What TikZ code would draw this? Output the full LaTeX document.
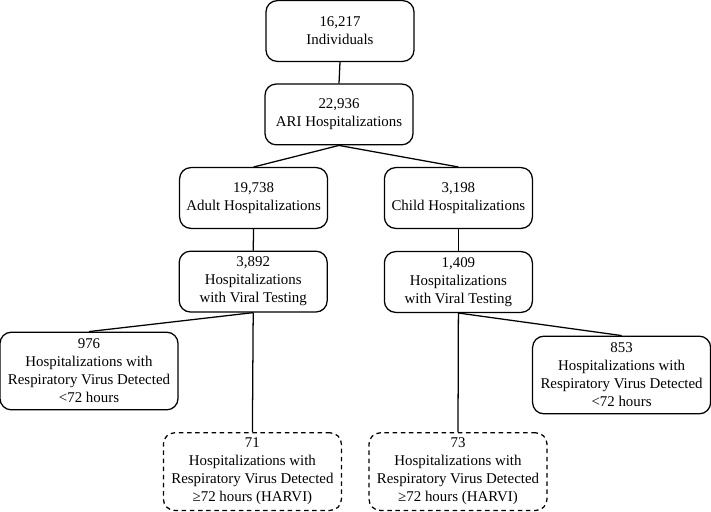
\documentclass[tikz,border=0pt]{standalone}
\usepackage{fontspec}
\setmainfont{Liberation Serif}
\usepackage{tikz}
\tikzset{
    box/.style={draw, line width=0.9pt, rounded corners=8pt, align=center, font=\fontsize{10.6}{12.8}\selectfont, inner sep=2pt},
    smallbox/.style={box, minimum width=3.7cm, minimum height=1.52cm},
    bigbox/.style={box, minimum width=4.45cm, minimum height=1.94cm},
    harvi/.style={bigbox, dash pattern=on 3.2pt off 2.6pt},
    link/.style={line width=0.9pt}
}
\begin{document}
\begin{tikzpicture}
    \useasboundingbox (0,0) rectangle (17.775,-12.775);
    % Top of the tree
    \node[smallbox] (indiv) at (8.5, -0.775) {16,217\\Individuals};
    \node[smallbox] (ari) at (8.475, -2.86) {22,936\\ARI Hospitalizations};
    
    % Adult and child split
    \node[smallbox] (adult) at (6.34, -4.95) {19,738\\Adult Hospitalizations};
    \node[smallbox] (child) at (11.46, -4.95) {3,198\\Child Hospitalizations};
    
    % Viral testing
    \node[smallbox] (adulttest) at (6.33, -7.04) {3,892\\Hospitalizations\\with Viral Testing};
    \node[smallbox] (childtest) at (11.46, -7.05) {1,409\\Hospitalizations\\with Viral Testing};
    
    % Detected <72 hours
    \node[bigbox] (adultearly) at (2.225, -9.275) {976\\Hospitalizations with\\Respiratory Virus Detected\\<72 hours};
    \node[bigbox] (childearly) at (15.54, -9.375) {853\\Hospitalizations with\\Respiratory Virus Detected\\<72 hours};
    
    % Detected >=72 hours (HARVI)
    \node[harvi] (adultharvi) at (6.31, -11.79) {71\\Hospitalizations with\\Respiratory Virus Detected\\≥72 hours (HARVI)};
    \node[harvi] (childharvi) at (11.45, -11.79) {73\\Hospitalizations with\\Respiratory Virus Detected\\≥72 hours (HARVI)};
    
    % Lines
    \draw[link] (indiv.south) -- (ari.north);
    \draw[link] (ari.south) -- (adult.north);
    \draw[link] (ari.south) -- (child.north);
    \draw[link] (adult.south) -- (adulttest.north);
    \draw[link] (child.south) -- (childtest.north);
    \draw[link] (adulttest.south) -- (adultearly.north);
    \draw[link] (adulttest.south) -- (adultharvi.north);
    \draw[link] (childtest.south) -- (childearly.north);
    \draw[link] (childtest.south) -- (childharvi.north);
\end{tikzpicture}
\end{document}
